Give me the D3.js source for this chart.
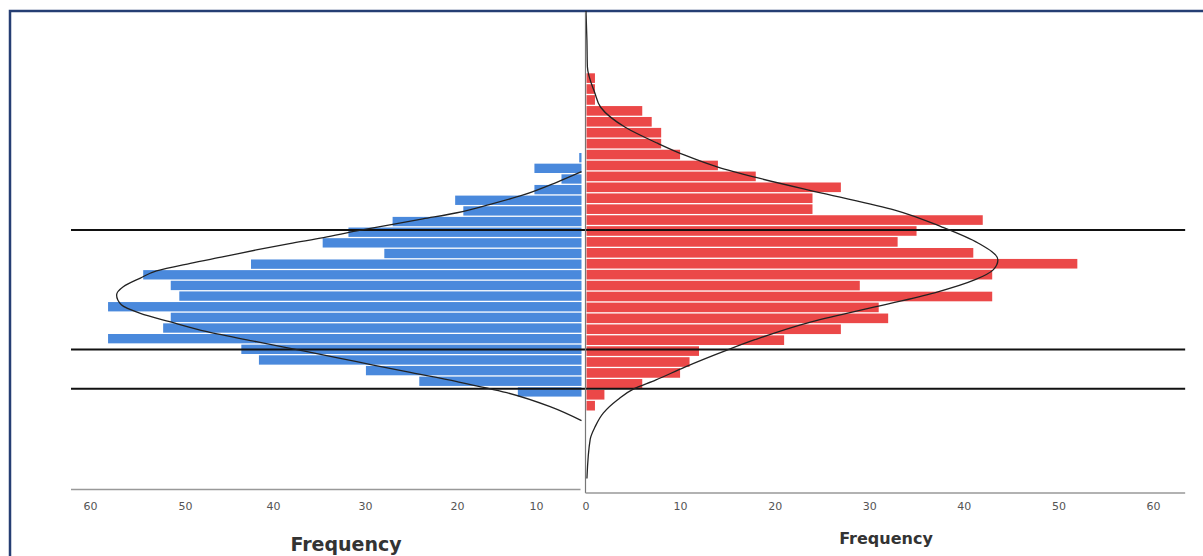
<!DOCTYPE html>
<html>
<head>
<meta charset="utf-8">
<script src="https://cdnjs.cloudflare.com/ajax/libs/d3/7.8.5/d3.min.js"></script>
<style>
  body { margin: 0; background: #fff; }
  svg { display: block; }
  .tick text { font-family: "DejaVu Sans", sans-serif; font-size: 11px; fill: #555; }
  .title { font-family: "DejaVu Sans", sans-serif; font-weight: bold; fill: #333; text-anchor: middle; }
</style>
</head>
<body>
<script>
// histogram counts, one per bin, top bin first
var redCounts = [1, 1, 1, 6, 7, 8, 8, 10, 14, 18, 27, 24, 24, 42, 35, 33, 41, 52, 43, 29, 43, 31,
                 32, 27, 21, 12, 11, 10, 6, 2, 1];
var blueCounts = [0.5, 10.2, 4.4, 10.2, 20.2, 19.2, 27.0, 31.8, 34.6, 27.9, 42.5, 54.4, 51.5, 50.6,
                  58.1, 51.5, 52.3, 58.1, 43.6, 41.6, 29.9, 24.1, 12.3];

// first bin and bin width of each histogram on the shared vertical scale
var redBinStart = 0, redBinWidth = 1;
var blueBinStart = 7.3, blueBinWidth = 0.975;

// normal curves: [bin position, frequency]
var redCurve = [[-5.7, 0.05], [-3.0, 0.15], [-0.6, 0.2], [1.83, 1.0], [3.11, 1.6], [4.94, 4.2],
                [6.4, 7.6], [7.5, 10.5], [8.59, 14.0], [9.51, 17.9], [10.97, 25.0], [12.52, 32.7],
                [14.08, 37.7], [15.54, 41.5], [17.09, 43.6], [18.0, 43.1], [18.9, 41.2], [20.1, 36.9],
                [21.4, 30.6], [22.85, 23.5], [24.4, 17.9], [25.3, 15.1], [26.9, 10.5], [28.1, 7.4],
                [28.9, 5.1], [29.9, 3.4], [31.1, 1.9], [32.4, 1.0], [33.5, 0.5], [37.1, 0.15]];
var blueCurve = [[9.01, 0], [9.98, 5.45], [11.14, 11.6], [12.0, 15.8], [12.77, 20.0], [13.34, 23.7],
                 [13.89, 27.3], [14.44, 30.9], [15.05, 34.5], [15.6, 38.2], [16.18, 41.9], [16.79, 45.6],
                 [17.4, 49.4], [18.1, 53.0], [18.75, 54.7], [19.54, 56.5], [20.3, 57.2], [21.2, 56.7],
                 [21.98, 54.7], [22.75, 51.6], [23.66, 47.5], [24.58, 41.9], [25.49, 36.3], [26.41, 30.9],
                 [27.33, 25.5], [28.24, 20.0], [29.25, 13.7], [30.53, 6.9], [31.81, 0]];

// horizontal reference lines (bin position)
var refLines = [14.35, 25.3, 28.9];

var redTicks = [0, 10, 20, 30, 40, 50, 60];
var blueTicks = [10, 20, 30, 40, 50, 60];

var width = 1203, height = 556;

// vertical: bins, top to bottom
var y = d3.scaleLinear().domain([0, 31]).range([73.3, 411.8]);
// right (red) frequency axis
var xR = d3.scaleLinear().domain([0, 60]).range([585.5, 1153]);
// left (blue) frequency axis - its labels are not evenly spaced in the source
var xB = d3.scaleLinear()
    .domain([0, 10, 20, 30, 40, 50, 60])
    .range([581.5, 536, 457, 365, 273, 185, 90]);

var svg = d3.select("body").append("svg")
    .attr("width", width)
    .attr("height", height);

// frame
svg.append("rect")
    .attr("x", 10).attr("y", 11)
    .attr("width", 1300).attr("height", 700)
    .attr("fill", "none")
    .attr("stroke", "#253e73")
    .attr("stroke-width", 2.5);

// blue bars grow to the left
svg.selectAll(".blue")
    .data(blueCounts)
  .enter().append("rect")
    .attr("class", "blue")
    .attr("x", function(d) { return xB(d); })
    .attr("y", function(d, i) { return y(blueBinStart + i * blueBinWidth); })
    .attr("width", function(d) { return xB(0) - xB(d); })
    .attr("height", y(blueBinWidth) - y(0) - 1.3)
    .attr("fill", "#4a89dc");

// red bars grow to the right
svg.selectAll(".red")
    .data(redCounts)
  .enter().append("rect")
    .attr("class", "red")
    .attr("x", xR(0) + 1)
    .attr("y", function(d, i) { return y(redBinStart + i * redBinWidth); })
    .attr("width", function(d) { return xR(d) - xR(0) - 1; })
    .attr("height", y(redBinWidth) - y(0) - 1.3)
    .attr("fill", "#eb4848");

// reference lines
svg.selectAll(".ref")
    .data(refLines)
  .enter().append("line")
    .attr("x1", xB(62)).attr("x2", xR(63.4))
    .attr("y1", function(d) { return y(d); })
    .attr("y2", function(d) { return y(d); })
    .attr("stroke", "#111")
    .attr("stroke-width", 2);

// normal curves (x depends on y, so monotone in y)
var redLine = d3.line()
    .curve(d3.curveMonotoneY)
    .x(function(d) { return xR(d[1]); })
    .y(function(d) { return y(d[0]); });
var blueLine = d3.line()
    .curve(d3.curveMonotoneY)
    .x(function(d) { return xB(d[1]); })
    .y(function(d) { return y(d[0]); });

svg.append("path")
    .datum(redCurve)
    .attr("d", redLine)
    .attr("fill", "none")
    .attr("stroke", "#222")
    .attr("stroke-width", 1.3);
svg.append("path")
    .datum(blueCurve)
    .attr("d", blueLine)
    .attr("fill", "none")
    .attr("stroke", "#222")
    .attr("stroke-width", 1.3);

// vertical zero line
svg.append("line")
    .attr("x1", xR(0)).attr("x2", xR(0))
    .attr("y1", 12).attr("y2", 493)
    .attr("stroke", "#777")
    .attr("stroke-width", 1.2);

// axis baselines
svg.append("line")
    .attr("x1", xB(62)).attr("x2", xB(0) - 1)
    .attr("y1", 489.5).attr("y2", 489.5)
    .attr("stroke", "#999")
    .attr("stroke-width", 1.5);
svg.append("line")
    .attr("x1", xR(0)).attr("x2", xR(63.4))
    .attr("y1", 493).attr("y2", 493)
    .attr("stroke", "#999")
    .attr("stroke-width", 1.5);

// tick labels
var axisR = svg.append("g")
    .attr("transform", "translate(0,493)")
    .call(d3.axisBottom(xR).tickValues(redTicks).tickSize(0).tickPadding(9));
axisR.select(".domain").remove();

var axisB = svg.append("g")
    .attr("transform", "translate(0,489)")
    .call(d3.axisBottom(xB).tickValues(blueTicks).tickSize(0).tickPadding(13));
axisB.select(".domain").remove();

// axis titles
svg.append("text")
    .attr("class", "title")
    .attr("x", 346).attr("y", 551)
    .style("font-size", "19px")
    .text("Frequency");
svg.append("text")
    .attr("class", "title")
    .attr("x", 886).attr("y", 544)
    .style("font-size", "16px")
    .text("Frequency");
</script>
</body>
</html>
